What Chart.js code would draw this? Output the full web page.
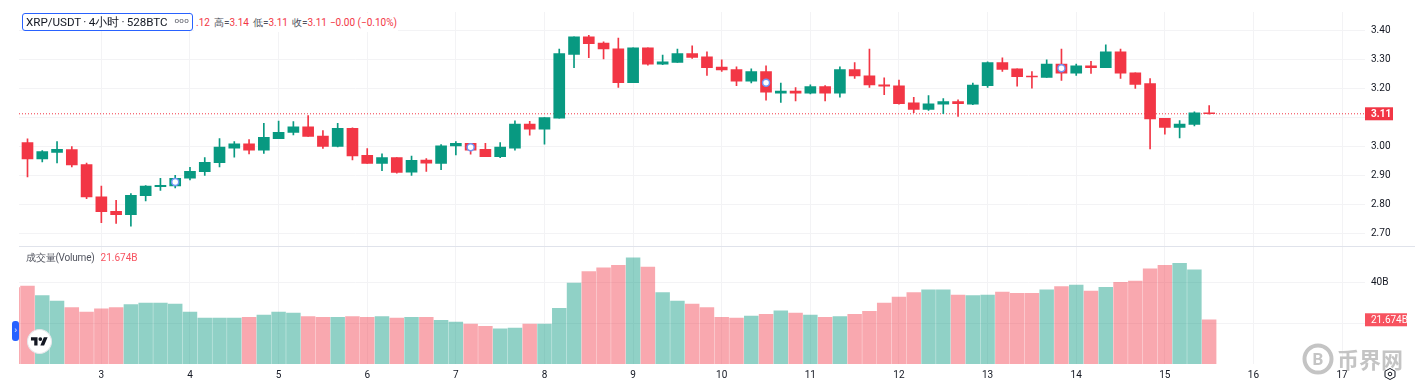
<!DOCTYPE html>
<html>
<head>
<meta charset="utf-8">
<script src="https://cdn.jsdelivr.net/npm/chart.js@4"></script>
<style>
html, body { margin: 0; padding: 0; background: #fff; overflow: hidden; }
#wrap { position: relative; width: 1415px; height: 385px; font-family: Roboto, sans-serif; }
canvas { position: absolute; left: 0; top: 0; }
.abs { position: absolute; white-space: nowrap; }
#symbol { left: 22px; top: 13px; width: 166px; height: 16px; border: 1px solid #2962ff; border-radius: 3px; background: #fff; color: #131722; font-size: 11.6px; line-height: 16px; padding-left: 3px; overflow: hidden; word-spacing: -.6px; }
#symbol i { position: absolute; right: 3px; top: -1px; font-style: normal; font-size: 8px; letter-spacing: .3px; color: #50535e; }
#ohlc { left: 194px; top: 13px; width: 204px; height: 19px; background: #fff; font-size: 10px; line-height: 20px; color: #f23645; overflow: hidden; padding-left: 2px; box-sizing: border-box; }
#ohlc b { font-weight: 400; color: #50535e; margin-left: 4px; }
#ohlc span { margin-left: 3px; }
#volLabel { left: 26px; top: 251px; font-size: 10px; line-height: 14px; color: #50535e; letter-spacing: -.2px; }
#volLabel span { color: #f7525f; margin-left: 6px; letter-spacing: 0; }
#toggle { left: 12px; top: 321px; width: 7px; height: 20px; background: #2962ff; border-radius: 3px; color: #fff; font-size: 9px; line-height: 19px; text-align: center; }
#mark { left: 27px; top: 329px; width: 25px; height: 25px; }
#wmText { left: 1337px; top: 343px; font: 700 22px/30px "Noto Sans CJK SC"; color: #c4c4c4; }
#wmLogo { left: 1302px; top: 343px; width: 32px; height: 32px; }
#gear { left: 1383px; top: 367px; width: 14px; height: 14px; }
</style>
</head>
<body>
<div id="wrap">
  <canvas id="chart" width="1415" height="385"></canvas>
  <div class="abs" id="ohlc">.12<b>高=</b>3.14<b>低=</b>3.11<b>收=</b>3.11<span>−0.00 (−0.10%)</span></div>
  <div class="abs" id="symbol">XRP/USDT · 4小时 · 528BTC<i>ooo</i></div>
  <div class="abs" id="volLabel">成交量(Volume)<span>21.674B</span></div>
  <div class="abs" id="toggle">›</div>
  <svg class="abs" id="mark" viewBox="0 0 24 24">
    <circle cx="12" cy="12" r="11.5" fill="#fff" stroke="#e6e6ea"/>
    <g transform="translate(3.8 6) scale(.45)" fill="#131722">
      <path d="M14 22H7V11H0V4h14v18zM28 22h-8l7.5-18h8L28 22z"/><circle cx="20" cy="8" r="4"/>
    </g>
  </svg>
  <svg class="abs" id="wmLogo" viewBox="0 0 32 32">
    <circle cx="16" cy="16" r="13.5" fill="none" stroke="#c4c4c4" stroke-width="4"/>
    <text x="16" y="22" text-anchor="middle" font-family="Roboto" font-weight="700" font-size="17" fill="#c4c4c4">B</text>
  </svg>
  <div class="abs" id="wmText">币界网</div>
  <svg class="abs" id="gear" viewBox="0 0 14 14">
    <path d="M7 1.5 12 4.2v5.6L7 12.5 2 9.8V4.2z" fill="none" stroke="#131722"/>
    <circle cx="7" cy="7" r="1.8" fill="none" stroke="#131722"/>
  </svg>
</div>
<script>
// prices, one row per 4h candle
const opens = [3.014,2.958,2.980,2.990,2.938,2.827,2.777,2.766,2.831,2.862,2.865,2.891,2.914,2.945,2.995,3.010,2.988,3.027,3.049,3.068,3.036,3.001,3.063,2.970,2.942,2.962,2.912,2.954,2.942,3.002,3.011,
  2.991,2.965,2.995,3.078,3.060,3.098,3.317,3.378,3.356,3.337,3.220,3.340,3.284,3.290,3.320,3.309,3.274,3.265,3.225,3.258,3.184,3.191,3.184,3.207,3.184,3.265,3.244,3.213,3.209,3.151,3.128,3.146,
  3.155,3.146,3.210,3.289,3.268,3.243,3.238,3.284,3.253,3.278,3.272,3.326,3.254,3.217,3.097,3.066,3.076,3.116];
const closes = [2.958,2.983,2.991,2.937,2.827,2.776,2.766,2.832,2.864,2.867,2.891,2.915,2.946,2.998,3.010,2.988,3.032,3.049,3.068,3.035,3.001,3.063,2.968,2.942,2.962,2.911,2.953,2.943,3.003,3.011,2.988,
  2.965,2.998,3.078,3.060,3.100,3.320,3.378,3.354,3.336,3.220,3.340,3.284,3.292,3.320,3.307,3.272,3.264,3.225,3.258,3.187,3.191,3.184,3.207,3.184,3.265,3.243,3.212,3.208,3.148,3.128,3.147,3.155,
  3.148,3.212,3.289,3.266,3.241,3.240,3.284,3.253,3.278,3.272,3.326,3.253,3.214,3.095,3.066,3.078,3.116,3.113];
const highs = [3.027,2.986,3.017,3.000,2.943,2.864,2.815,2.838,2.866,2.891,2.901,2.929,2.962,3.028,3.017,3.024,3.080,3.088,3.086,3.107,3.055,3.080,3.065,2.993,2.975,2.962,2.967,2.959,3.007,3.017,3.011,
  3.011,3.014,3.089,3.087,3.100,3.336,3.378,3.383,3.361,3.374,3.340,3.340,3.315,3.336,3.347,3.326,3.299,3.275,3.268,3.278,3.219,3.203,3.213,3.210,3.275,3.289,3.336,3.237,3.229,3.170,3.176,3.165,
  3.161,3.219,3.292,3.306,3.268,3.258,3.299,3.336,3.284,3.294,3.350,3.336,3.254,3.234,3.097,3.090,3.120,3.141];
const lows = [2.896,2.947,2.944,2.930,2.821,2.738,2.736,2.726,2.813,2.849,2.858,2.885,2.901,2.930,2.964,2.975,2.977,3.027,3.040,3.035,2.994,2.999,2.954,2.942,2.917,2.909,2.901,2.915,2.921,2.971,2.974,
  2.965,2.962,2.988,3.039,3.008,3.098,3.272,3.306,3.302,3.204,3.220,3.280,3.282,3.290,3.304,3.245,3.259,3.210,3.219,3.160,3.152,3.157,3.181,3.157,3.170,3.235,3.204,3.179,3.146,3.117,3.125,3.113,
  3.104,3.144,3.204,3.259,3.208,3.201,3.238,3.228,3.245,3.252,3.272,3.235,3.200,2.992,3.043,3.030,3.071,3.112];
// volume in billions, candle 0 onwards
const volumes = [38.2,33.5,30.9,27.6,25.5,27.0,27.6,29.1,29.9,29.9,29.4,25.5,22.5,22.5,22.5,22.9,24.0,25.5,25.0,23.2,22.9,22.9,23.2,22.9,23.2,22.5,22.9,22.9,21.4,20.6,19.6,
  18.5,17.3,17.6,19.6,19.6,27.3,39.7,45.3,47.1,48.4,52.0,47.5,35.0,30.9,29.4,27.6,22.9,22.5,23.5,24.3,26.1,25.0,24.0,22.9,23.2,24.3,25.8,29.9,32.8,35.0,36.4,36.4,
  33.8,33.5,33.8,35.3,34.6,34.6,36.4,37.9,38.7,35.8,37.6,40.0,40.7,46.7,48.4,49.3,46.1,21.674];
const offscreenVolume = 37.4; // candle cut off by the left edge, only its sliver shows
const dayTicks = [5,11,17,23,29,35,41,47,53,59,65,71,77,83,89];
const dayLabels = ['3','4','5','6','7','8','9','10','11','12','13','14','15','16','17'];
const priceTicks = [2.7,2.8,2.9,3.0,3.1,3.2,3.3,3.4];
const volumeTicks = [20,40];
const markerIndex = [10,30,50,70];
const markerPrice = [2.878,2.998,3.220,3.270];
const lastPrice = 3.113;
const lastPriceLabel = '3.11';
const lastVolume = 21.674;
const lastVolumeLabel = '21.674B';

const UP = '#089981', DOWN = '#f23645';
const UP_VOL = 'rgba(8,153,129,.45)', DOWN_VOL = 'rgba(242,54,69,.43)';
const FONT = { family: 'Roboto, sans-serif', size: 10 };
const GRID = '#f3f3f5';
const candleColor = opens.map((o, i) => closes[i] >= o ? UP : DOWN);
const X_MIN = -0.5755, X_MAX = 90.55;

const panes = {
    id: 'panes',
    afterDraw(chart) {
        const { ctx, chartArea, scales } = chart;
        // pane divider
        const dy = Math.round(scales.yPrice.bottom) + 0.5;
        ctx.save();
        ctx.strokeStyle = '#e0e3eb';
        ctx.beginPath();
        ctx.moveTo(chartArea.left, dy);
        ctx.lineTo(1415, dy);
        ctx.stroke();

        // last value tags
        ctx.textBaseline = 'middle';
        ctx.textAlign = 'left';
        const py = scales.yPrice.getPixelForValue(lastPrice);
        ctx.fillStyle = DOWN;
        ctx.fillRect(chartArea.right, py - 6.5, 28, 13);
        ctx.fillStyle = '#fff';
        ctx.font = '700 10px Roboto, sans-serif';
        ctx.fillText(lastPriceLabel, chartArea.right + 6, py + 0.5);

        const vy = scales.yVol.getPixelForValue(lastVolume);
        ctx.fillStyle = '#f7525f';
        ctx.fillRect(chartArea.right, vy - 6.5, 42, 13);
        ctx.fillStyle = '#fff';
        ctx.font = '10px Roboto, sans-serif';
        ctx.fillText(lastVolumeLabel, chartArea.right + 6, vy + 0.5);
        ctx.restore();
    }
};

new Chart(document.getElementById('chart'), {
    data: {
        datasets: [
            {
                type: 'scatter',
                yAxisID: 'yPrice',
                order: 0,
                data: markerIndex.map((x, i) => ({ x, y: markerPrice[i] })),
                pointRadius: 3.5,
                pointBackgroundColor: '#fff',
                pointBorderColor: '#6f96f5',
                pointBorderWidth: 1.5
            },
            {
                type: 'bar',
                yAxisID: 'yPrice',
                order: 1,
                grouped: false,
                barThickness: 11,
                backgroundColor: candleColor,
                data: opens.map((o, i) => ({ x: i, y: [o, closes[i]] }))
            },
            {
                type: 'bar',
                yAxisID: 'yPrice',
                order: 2,
                grouped: false,
                barThickness: 1,
                backgroundColor: candleColor,
                data: highs.map((h, i) => ({ x: i, y: [lows[i], h] }))
            },
            {
                type: 'line',
                yAxisID: 'yPrice',
                order: 3,
                data: [{ x: X_MIN, y: lastPrice }, { x: X_MAX, y: lastPrice }],
                borderColor: DOWN,
                borderWidth: 1,
                borderDash: [1, 2],
                pointRadius: 0
            },
            {
                type: 'bar',
                yAxisID: 'yVol',
                order: 4,
                grouped: false,
                barThickness: 13.8,
                backgroundColor: [DOWN_VOL].concat(candleColor.map(c => c === UP ? UP_VOL : DOWN_VOL)),
                data: [{ x: -1, y: offscreenVolume }].concat(volumes.map((v, i) => ({ x: i, y: v })))
            }
        ]
    },
    plugins: [panes],
    options: {
        responsive: false,
        animation: false,
        events: [],
        layout: { padding: { top: 10, left: 19 } },
        plugins: { legend: { display: false }, tooltip: { enabled: false } },
        scales: {
            x: {
                type: 'linear',
                offset: false,
                min: X_MIN,
                max: X_MAX,
                afterBuildTicks: axis => { axis.ticks = dayTicks.map(value => ({ value })); },
                afterFit: axis => { axis.height = 21; },
                grid: { color: GRID, drawTicks: false, offset: false },
                border: { display: false },
                ticks: {
                    autoSkip: false,
                    maxRotation: 0,
                    padding: 5,
                    color: '#131722',
                    font: FONT,
                    callback: value => dayLabels[dayTicks.indexOf(value)]
                }
            },
            yPrice: {
                position: 'right',
                stack: 'panes',
                stackWeight: 235,
                min: 2.659,
                max: 3.4634,
                afterBuildTicks: axis => { axis.ticks = priceTicks.map(value => ({ value })); },
                afterFit: axis => { axis.width = 50; },
                grid: { color: GRID, drawTicks: false },
                border: { display: false },
                ticks: { padding: 6, color: '#131722', font: FONT, callback: v => v.toFixed(2) }
            },
            yVol: {
                position: 'right',
                stack: 'panes',
                stackWeight: 119,
                min: 0,
                max: 58,
                afterBuildTicks: axis => { axis.ticks = volumeTicks.map(value => ({ value })); },
                afterFit: axis => { axis.width = 50; },
                grid: { color: GRID, drawTicks: false },
                border: { display: false },
                ticks: { padding: 6, color: '#131722', font: FONT, callback: v => v === 40 ? '40B' : '' }
            }
        }
    }
});
</script>
</body>
</html>
